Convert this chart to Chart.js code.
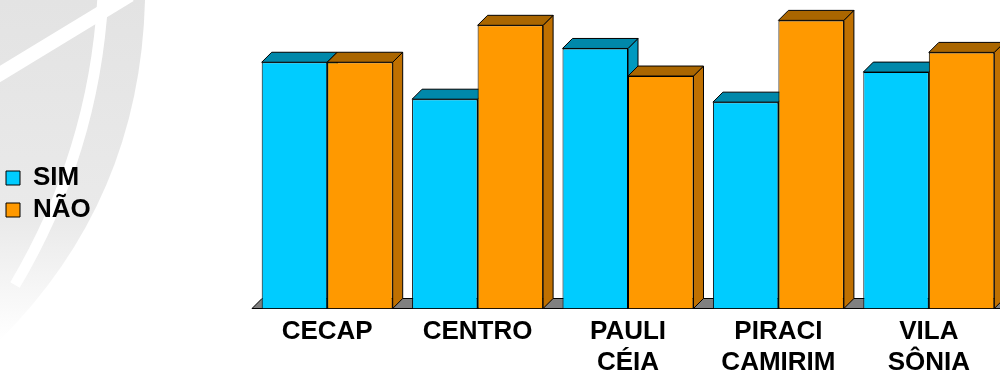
<!DOCTYPE html>
<html>
<head>
<meta charset="utf-8">
<script src="https://cdn.jsdelivr.net/npm/chart.js@4.4.1/dist/chart.umd.min.js"></script>
<style>
  html, body { margin: 0; padding: 0; background: #fff; overflow: hidden; }
  #wrap { position: relative; width: 1004px; height: 375px; }
</style>
</head>
<body>
<div id="wrap"><canvas id="grafico"></canvas></div>
<script>
document.addEventListener('DOMContentLoaded', () => {

	// DADOS

	const categorias = [
	  'CECAP',
	  'CENTRO',
	  ['PAULI', 'CÉIA'],
	  ['PIRACI', 'CAMIRIM'],
	  ['VILA', 'SÔNIA'],
	];
	const valoresSim = [50, 42.5, 52.8, 41.9, 48];
	const valoresNao = [50, 57.5, 47.2, 58.5, 52];
	const yMax = 60;

	const fonte = 'Liberation Sans, Arial, sans-serif';
	const profundidade = 10;
	let larguraEixoY = 150;

	// marca d'agua no fundo
	const fundo = {
	  id: 'fundo',
	  beforeDraw(chart) {
	    const ctx = chart.ctx;
	    ctx.save();
	    const g = ctx.createLinearGradient(0, 0, 0, 340);
	    g.addColorStop(0, '#e3e3e3');
	    g.addColorStop(0.65, '#eaeaea');
	    g.addColorStop(1, '#ffffff');
	    ctx.fillStyle = g;
	    ctx.beginPath();
	    ctx.moveTo(0, 0);
	    ctx.lineTo(145, 0);
	    ctx.quadraticCurveTo(140, 200, 0, 340);
	    ctx.closePath();
	    ctx.fill();
	    ctx.strokeStyle = '#ffffff';
	    ctx.lineWidth = 14;
	    ctx.beginPath();
	    ctx.moveTo(-5, 77);
	    ctx.lineTo(130, -5);
	    ctx.stroke();
	    ctx.lineWidth = 11;
	    ctx.beginPath();
	    ctx.moveTo(103, -5);
	    ctx.quadraticCurveTo(95, 150, 15, 285);
	    ctx.stroke();
	    ctx.restore();
	  }
	};

	// efeito 3D: piso, faces laterais e topo
	const barras3d = {
	  id: 'barras3d',
	  beforeDatasetsDraw(chart) {
	    const ctx = chart.ctx;
	    const area = chart.chartArea;
	    const d = profundidade;
	    const poly = (pts, cor) => {
	      ctx.beginPath();
	      ctx.moveTo(pts[0][0], pts[0][1]);
	      pts.slice(1).forEach(p => ctx.lineTo(p[0], p[1]));
	      ctx.closePath();
	      ctx.fillStyle = cor;
	      ctx.fill();
	      ctx.stroke();
	    };
	    ctx.save();
	    ctx.strokeStyle = '#000';
	    ctx.lineWidth = 1;
	    ctx.lineJoin = 'round';
	    poly([[area.left, area.bottom], [area.right, area.bottom],
	          [area.right + d, area.bottom - d], [area.left + d, area.bottom - d]], '#808080');
	    const n = chart.data.labels.length;
	    for (let i = 0; i < n; i++) {
	      chart.data.datasets.forEach((ds, k) => {
	        const bar = chart.getDatasetMeta(k).data[i];
	        const { x, y, base, width } = bar.getProps(['x', 'y', 'base', 'width'], true);
	        const l = x - width / 2, r = x + width / 2;
	        poly([[r, y], [r + d, y - d], [r + d, base - d], [r, base]], ds.corLado);
	        poly([[l, y], [l + d, y - d], [r + d, y - d], [r, y]], ds.corTopo);
	      });
	    }
	    ctx.restore();
	  }
	};

	const data = {
	  labels: categorias,
	  datasets: [{
	    label: 'SIM',
	    data: valoresSim,
	    backgroundColor: '#00ccff',
	    borderColor: '#000',
	    borderWidth: 1,
	    corTopo: '#0088aa',
	    corLado: '#0099c0',
	  }, {
	    label: 'NÃO',
	    data: valoresNao,
	    backgroundColor: '#ff9900',
	    borderColor: '#000',
	    borderWidth: 1,
	    corTopo: '#aa6600',
	    corLado: '#c07000',
	  }]
	};

	const config = {
	  type: 'bar',
	  data: data,
	  options: {
	    responsive: true,
	    maintainAspectRatio: false,
	    animation: false,
	    layout: { padding: { top: 13, right: 0, bottom: 0, left: 0 } },
	    datasets: {
	      bar: { categoryPercentage: 0.871, barPercentage: 1.0 }
	    },
	    plugins: {
	      tooltip: { enabled: false },
	      legend: {
	        position: 'left',
	        labels: {
	          color: '#000',
	          font: { family: fonte, size: 26, weight: 'bold' },
	          boxWidth: 14,
	          boxHeight: 14,
	          padding: 6,
	        }
	      }
	    },
	    scales: {
	      x: {
	        grid: { display: false, drawTicks: false },
	        border: { display: false },
	        ticks: {
	          color: '#000',
	          font: { family: fonte, size: 26, weight: 'bold', lineHeight: 1.18 },
	          padding: 8,
	          maxRotation: 0,
	          autoSkip: false,
	        },
	        afterFit: (s) => { s.height = 66.5; }
	      },
	      y: {
	        min: 0,
	        max: yMax,
	        grid: { display: false, drawTicks: false },
	        border: { display: false },
	        ticks: { display: false },
	        afterFit: (s) => { s.width = larguraEixoY; }
	      }
	    }
	  },
	  plugins: [fundo, barras3d],
	};

	var grafico = new Chart(document.getElementById('grafico'), config);
	const ajuste = 252 - grafico.chartArea.left;
	if (Math.abs(ajuste) > 0.1) {
	  larguraEixoY += ajuste;
	  grafico.update('none');
	}

});
</script>
</body>
</html>
